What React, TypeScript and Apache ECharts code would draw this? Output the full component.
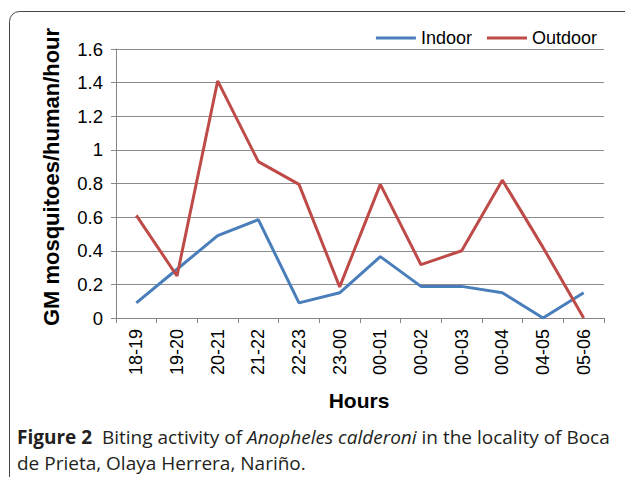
import React, { useEffect, useRef } from "react";
import * as echarts from "echarts";

const categories = ["18-19", "19-20", "20-21", "21-22", "22-23", "23-00", "00-01", "00-02", "00-03", "00-04", "04-05", "05-06"];
const indoor = [0.09, 0.29, 0.49, 0.585, 0.09, 0.15, 0.365, 0.188, 0.188, 0.15, 0, 0.15];
const outdoor = [0.61, 0.25, 1.41, 0.93, 0.795, 0.185, 0.795, 0.317, 0.4, 0.82, 0.42, 0];
const seriesNames = ["Indoor", "Outdoor"];
const yTitle = "GM mosquitoes/human/hour";
const xTitle = "Hours";

const SANS = "Arial, 'Liberation Sans', sans-serif";
const CAP = "'Open Sans', 'Noto Sans', sans-serif";

export default function App() {
  const ref = useRef<HTMLDivElement>(null);
  useEffect(() => {
    document.body.style.margin = "0";
    const chart = echarts.init(ref.current!, null, { renderer: "svg" });
    const axisColor = "#868686";
    chart.setOption({
      animation: false,
      backgroundColor: "#ffffff",
      grid: { left: 116, right: 21, top: 49, bottom: 159, containLabel: false },
      legend: {
        data: seriesNames,
        right: 23,
        top: 24,
        icon: "rect",
        itemWidth: 40,
        itemHeight: 3,
        itemGap: 15,
        textStyle: { fontFamily: SANS, fontSize: 18, color: "#000" },
      },
      xAxis: {
        type: "category",
        data: categories,
        boundaryGap: true,
        axisLine: { show: true, lineStyle: { color: axisColor, width: 1 } },
        axisTick: { show: true, length: 5, lineStyle: { color: axisColor } },
        axisLabel: { rotate: 90, fontFamily: SANS, fontSize: 18, color: "#000", margin: 11 },
        splitLine: { show: false },
      },
      yAxis: {
        type: "value",
        min: 0,
        max: 1.6,
        interval: 0.2,
        axisLine: { show: true, lineStyle: { color: axisColor, width: 1 } },
        axisTick: { show: true, length: 5, lineStyle: { color: axisColor } },
        axisLabel: { fontFamily: SANS, fontSize: 18.5, color: "#000", margin: 13 },
        splitLine: { show: true, lineStyle: { color: "#8c8c8c", width: 1 } },
      },
      series: [
        {
          name: seriesNames[0],
          type: "line",
          data: indoor,
          symbol: "none",
          lineStyle: { color: "#4A7EBB", width: 3 },
          itemStyle: { color: "#4A7EBB" },
        },
        {
          name: seriesNames[1],
          type: "line",
          data: outdoor,
          symbol: "none",
          lineStyle: { color: "#BE4B48", width: 3 },
          itemStyle: { color: "#BE4B48" },
        },
      ],
      graphic: [
        {
          type: "rect",
          shape: { x: 9.5, y: 11.5, width: 700, height: 600, r: 10 },
          style: { fill: "none", stroke: "#444", lineWidth: 1 },
          silent: true,
        },
        {
          type: "text",
          x: 51,
          y: 177,
          rotation: Math.PI / 2,
          style: {
            text: yTitle,
            fontFamily: SANS,
            fontSize: 22,
            fontWeight: "bold",
            fill: "#000",
            align: "center",
            verticalAlign: "middle",
          },
        },
        {
          type: "text",
          x: 359,
          y: 400,
          style: {
            text: xTitle,
            fontFamily: SANS,
            fontSize: 21,
            fontWeight: "bold",
            fill: "#000",
            align: "center",
            verticalAlign: "middle",
          },
        },
        {
          type: "text",
          x: 17,
          y: 437,
          style: {
            text: "{b|Figure 2}  {n|Biting activity of }{i|Anopheles calderoni}{n| in the locality of Boca}",
            verticalAlign: "middle",
            rich: {
              b: { fontFamily: CAP, fontSize: 19, fontWeight: "bold", fill: "#231f20" },
              n: { fontFamily: CAP, fontSize: 19, fill: "#231f20" },
              i: { fontFamily: CAP, fontSize: 19, fontStyle: "italic", fill: "#231f20" },
            },
            fontFamily: CAP,
            fontSize: 19,
            fill: "#231f20",
          },
        },
        {
          type: "text",
          x: 17,
          y: 463,
          style: {
            text: "de Prieta, Olaya Herrera, Nariño.",
            fontFamily: CAP,
            fontSize: 19,
            fill: "#231f20",
            verticalAlign: "middle",
          },
        },
      ],
    });
    return () => chart.dispose();
  }, []);
  return <div ref={ref} style={{ width: 625, height: 477 }} />;
}
